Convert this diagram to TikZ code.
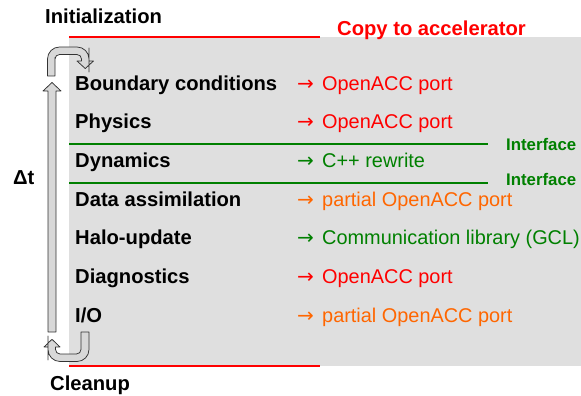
\documentclass[tikz,border=0pt]{standalone}
\usepackage{fontspec}
\setmainfont{Liberation Sans}
\newfontfamily\arrowfont{DejaVu Sans}
\usetikzlibrary{calc}
\usepackage{xcolor}

\definecolor{accred}{RGB}{255,0,0}
\definecolor{accgreen}{RGB}{0,128,0}
\definecolor{accorange}{RGB}{255,102,0}
\definecolor{panelgray}{RGB}{223,223,223}
\definecolor{arrowgray}{RGB}{216,216,216}

\tikzset{
  stage/.style={anchor=base west, inner sep=0pt, font=\fontsize{20.2}{24}\selectfont\bfseries},
  port/.style={anchor=base west, inner sep=0pt, font=\fontsize{19.9}{24}\selectfont},
  iface/.style={anchor=base west, inner sep=0pt, text=accgreen, font=\fontsize{16.8}{20}\selectfont\bfseries},
  blockarrow/.style={draw=black!80, fill=arrowgray, line width=0.75pt, line join=round},
}

\begin{document}
\begin{tikzpicture}[x=1pt,y=-1pt]

        % Frame
        \useasboundingbox (0,0) rectangle (581,396);
        \fill[panelgray] (69,37) rectangle (581,366);
        \draw[accred, line width=2pt] (69,37) -- (320,37);
        \draw[accred, line width=2pt] (69,366) -- (320,366);

        % Interfaces
        \draw[accgreen, line width=2pt] (69,144) -- (488,144);
        \draw[accgreen, line width=2pt] (69,183.3) -- (488,183.3);
        \node[iface] (if1) at (506,150) {Interface};
        \node[iface] (if2) at (506,185.7) {Interface};

        % Titles
        \node[stage] (init) at (45,23.3) {Initialization};
        \node[stage, text=accred] (copy) at (337,35.7) {Copy to accelerator};
        \node[stage] (clean) at (50,390.7) {Cleanup};
        \node[stage] (dt) at (13,184) {Δt};

        % Stages
        \foreach \i/\stg/\col/\prt in {0/{Boundary conditions}/accred/{OpenACC port},
                                       1/{Physics}/accred/{OpenACC port},
                                       2/{Dynamics}/accgreen/{C++ rewrite},
                                       3/{Data assimilation}/accorange/{partial OpenACC port},
                                       4/{Halo-update}/accgreen/{Communication library (GCL)},
                                       5/{Diagnostics}/accred/{OpenACC port},
                                       6/{I/O}/accorange/{partial OpenACC port}}
        {
          \coordinate (B\i) at ($(0,90)+(0,\i*38.7)$);
          \node[stage] (stage\i) at ($(B\i)+(75,0)$) {\stg};
          \node[port, text=\col] (port\i) at ($(B\i)+(297,0)$) {\makebox[25pt][l]{\arrowfont\fontsize{20}{20}\selectfont →}\prt};
        }

        % Loop arrow
        \draw[blockarrow] (48,332) -- (48,91) -- (43,91) -- (52,82.5) -- (61,91) -- (56,91) -- (56,332) -- cycle;

        \draw[blockarrow] (47.5,76) -- (47.5,62) [rounded corners=12pt] -- (47.5,47) -- (89,47) -- (89,60)
              [sharp corners] -- (89,61) -- (93.5,61) -- (85.25,68.5) -- (77,61) -- (81.5,61) -- (81.5,59)
              [rounded corners=4.5pt] -- (81.5,54.5) -- (55,54.5) -- (55,62) [sharp corners] -- (55,76) -- cycle;

        \draw[blockarrow] (81,332) -- (89,332) -- (89,345) [rounded corners=12pt] -- (89,361.5) -- (48,361.5)
              -- (48,348) [sharp corners] -- (48,347) -- (44,347) -- (52,339.3) -- (60,347) -- (55.5,347)
              -- (55.5,349) [rounded corners=4.5pt] -- (55.5,354) -- (81,354) -- (81,345) [sharp corners] -- cycle;

\end{tikzpicture}
\end{document}
